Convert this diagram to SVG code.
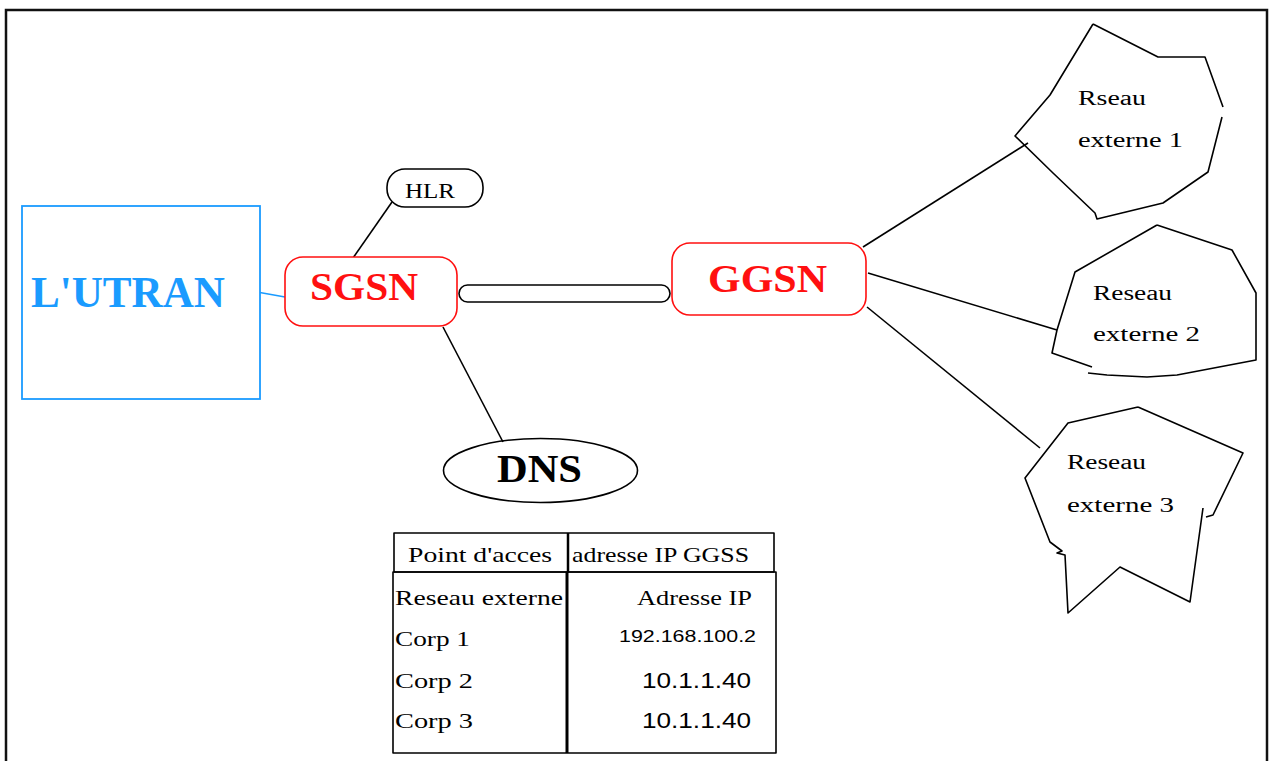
<svg xmlns="http://www.w3.org/2000/svg" width="1273" height="761" viewBox="0 0 1273 761">
<style>
.ln{stroke:#000;stroke-width:1.6;fill:none;stroke-linejoin:round}
.red{stroke:#ff1010;stroke-width:1.6;fill:#fff}
.t{font-family:"Liberation Serif","Times New Roman",serif;fill:#000}
.b{font-family:"Liberation Serif","Times New Roman",serif;font-weight:bold}
.s{font-family:"Liberation Sans",Arial,sans-serif;fill:#000}
</style>
<rect x="0" y="0" width="1273" height="761" fill="#fff"/>
<rect x="6" y="10" width="1261" height="770" fill="none" stroke="#111" stroke-width="2.5"/>
<g id="connectors">
<line x1="257" y1="292" x2="285" y2="297" stroke="#1a9bff" stroke-width="1.6"/>
<line class="ln" x1="392" y1="202" x2="353" y2="258"/>
<line class="ln" x1="443" y1="327" x2="503" y2="442"/>
<line class="ln" x1="863" y1="247" x2="1028" y2="143"/>
<line class="ln" x1="868" y1="273" x2="1057" y2="330"/>
<line class="ln" x1="867" y1="307" x2="1040" y2="448"/>
<rect class="ln" x="459" y="285" width="211" height="17" rx="8.5" fill="#fff"/>
</g>
<g id="utran">
<rect x="22" y="206" width="238" height="193" fill="#fff" stroke="#1a9bff" stroke-width="1.8"/>
<text class="b" x="31" y="307" font-size="44" fill="#1a9bff" textLength="194" lengthAdjust="spacingAndGlyphs">L'UTRAN</text>
</g>
<g id="sgsn">
<rect class="red" x="285" y="257" width="172" height="69" rx="18"/>
<text class="b" x="310" y="300" font-size="40" fill="#ff1010" textLength="108" lengthAdjust="spacingAndGlyphs">SGSN</text>
</g>
<g id="hlr">
<rect class="ln" x="387" y="169" width="96" height="38" rx="18" fill="#fff"/>
<text class="t" x="405" y="198" font-size="22" textLength="50" lengthAdjust="spacingAndGlyphs">HLR</text>
</g>
<g id="ggsn">
<rect class="red" x="672" y="243" width="194" height="72" rx="18"/>
<text class="b" x="708" y="292" font-size="41" fill="#ff1010" textLength="119" lengthAdjust="spacingAndGlyphs">GGSN</text>
</g>
<g id="dns">
<ellipse class="ln" cx="540.5" cy="470.5" rx="97" ry="32" fill="#fff"/>
<text class="b" x="497" y="482" font-size="41" fill="#000" textLength="85" lengthAdjust="spacingAndGlyphs">DNS</text>
</g>
<g id="reseau1">
<path class="ln" d="M1093,24 L1158,57 L1205,57 L1223,107 M1222,117 L1208,172 L1163,203 L1097,219 L1095,213 L1053,173 L1015,136 L1050,95 L1093,24"/>
<text class="t" x="1078" y="105" font-size="20" textLength="68" lengthAdjust="spacingAndGlyphs">Rseau</text>
<text class="t" x="1078" y="147" font-size="20" textLength="105" lengthAdjust="spacingAndGlyphs">externe 1</text>
</g>
<g id="reseau2">
<path class="ln" d="M1157,225 L1232,250 L1256,293 L1256,360 L1177,375 L1147,377 L1107,375 L1088,373 M1092,367 L1052,353 L1057,330 L1075,272 L1157,225"/>
<text class="t" x="1093" y="300" font-size="20" textLength="79" lengthAdjust="spacingAndGlyphs">Reseau</text>
<text class="t" x="1093" y="341" font-size="20" textLength="107" lengthAdjust="spacingAndGlyphs">externe 2</text>
</g>
<g id="reseau3">
<path class="ln" d="M1138,407 L1243,453 L1213,515 L1206,517 M1203,508 L1190,602 L1120,567 L1068,613 L1065,555 L1057,553 L1062,551 L1050,542 L1025,478 L1068,423 L1138,407"/>
<text class="t" x="1067" y="469" font-size="20" textLength="79" lengthAdjust="spacingAndGlyphs">Reseau</text>
<text class="t" x="1067" y="512" font-size="20" textLength="107" lengthAdjust="spacingAndGlyphs">externe 3</text>
</g>
<g id="table">
<rect class="ln" x="394" y="533" width="380" height="39" fill="#fff"/>
<rect class="ln" x="393" y="572" width="383" height="181" fill="#fff"/>
<line x1="568" y1="533" x2="568" y2="572" stroke="#000" stroke-width="2.5"/>
<line x1="567" y1="572" x2="567" y2="753" stroke="#000" stroke-width="3"/>
<text class="t" x="408" y="562" font-size="22" textLength="144" lengthAdjust="spacingAndGlyphs">Point d'acces</text>
<text class="t" x="572" y="562" font-size="22" textLength="177" lengthAdjust="spacingAndGlyphs">adresse IP GGSS</text>
<text class="t" x="395" y="605" font-size="22" textLength="168" lengthAdjust="spacingAndGlyphs">Reseau externe</text>
<text class="t" x="637" y="605" font-size="22" textLength="115" lengthAdjust="spacingAndGlyphs">Adresse IP</text>
<text class="t" x="395" y="646" font-size="22" textLength="75" lengthAdjust="spacingAndGlyphs">Corp 1</text>
<text class="t" x="395" y="688" font-size="22" textLength="78" lengthAdjust="spacingAndGlyphs">Corp 2</text>
<text class="t" x="395" y="728" font-size="22" textLength="78" lengthAdjust="spacingAndGlyphs">Corp 3</text>
<text class="s" x="619" y="642" font-size="17" textLength="137" lengthAdjust="spacingAndGlyphs">192.168.100.2</text>
<text class="s" x="642" y="688" font-size="22" textLength="109" lengthAdjust="spacingAndGlyphs">10.1.1.40</text>
<text class="s" x="642" y="728" font-size="22" textLength="109" lengthAdjust="spacingAndGlyphs">10.1.1.40</text>
</g>
</svg>
